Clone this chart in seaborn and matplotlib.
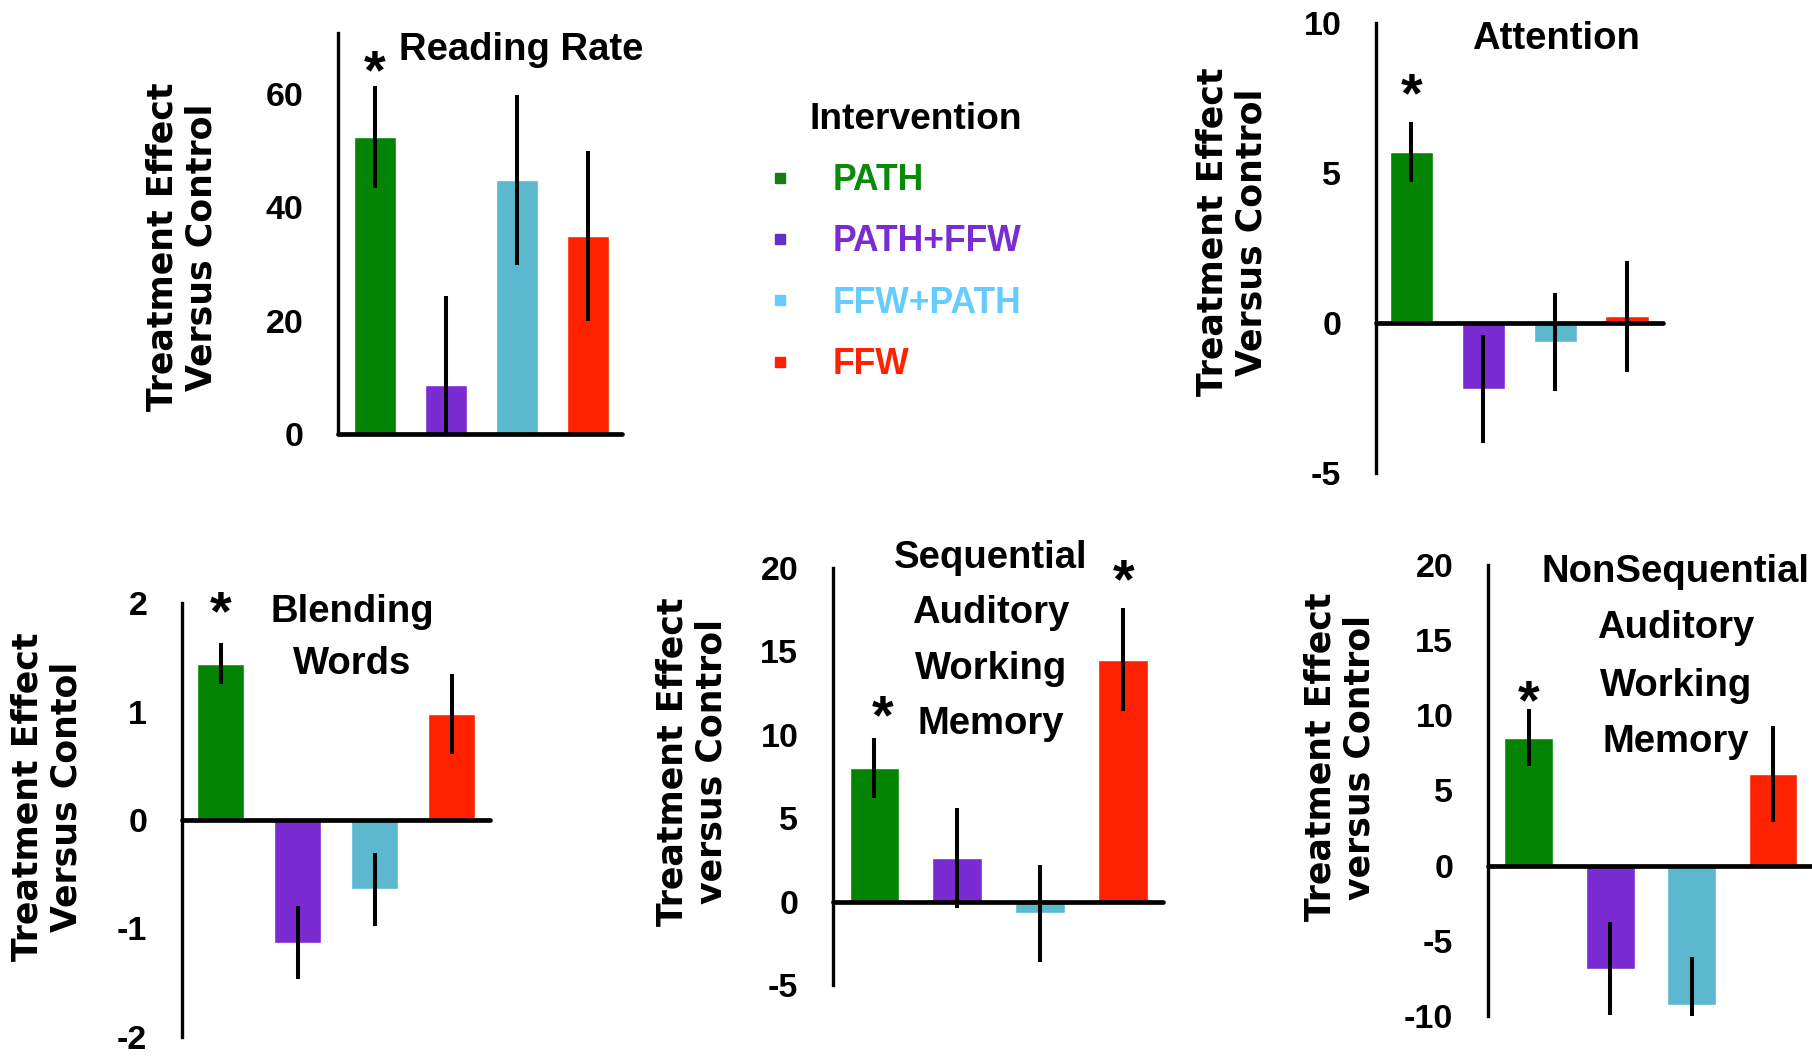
import matplotlib
matplotlib.use("Agg")
import matplotlib.pyplot as plt
import matplotlib.font_manager as fm
from matplotlib.lines import Line2D
import seaborn as sns
import pandas as pd

# ---------------- data ----------------
categories = ["PATH", "PATH+FFW", "FFW+PATH", "FFW"]
bar_colors = ["#038503", "#7a2bd1", "#5bb8cf", "#ff2200"]
legend_marker_colors = ["#1a7a1a", "#6030c8", "#66ccff", "#ff2200"]
legend_text_colors = ["#0a8a0a", "#7a2bd1", "#66ccff", "#ff2200"]

reading_vals = [52.3, 8.6, 44.8, 34.9]
reading_err = [9.0, 15.7, 15.0, 15.0]
reading_ticks = [0, 20, 40, 60]
reading_stars = [(0, 65.5)]

attention_vals = [5.7, -2.2, -0.63, 0.22]
attention_err = [1.0, 1.8, 1.63, 1.86]
attention_ticks = [-5, 0, 5, 10]
attention_stars = [(0, 7.9)]

blending_vals = [1.44, -1.13, -0.64, 0.98]
blending_err = [0.19, 0.34, 0.34, 0.37]
blending_ticks = [-2, -1, 0, 1, 2]
blending_stars = [(0, 1.99)]

seq_vals = [8.0, 2.6, -0.7, 14.5]
seq_err = [1.8, 3.0, 2.9, 3.1]
seq_ticks = [-5, 0, 5, 10, 15, 20]
seq_stars = [(0.1, 11.6), (3, 19.8)]

nonseq_vals = [8.5, -6.85, -9.3, 6.1]
nonseq_err = [1.9, 3.1, 3.2, 3.2]
nonseq_ticks = [-10, -5, 0, 5, 10, 15, 20]
nonseq_stars = [(0, 11.5)]

titles = ["Reading Rate", "Attention", "Blending\nWords",
          "Sequential\nAuditory\nWorking\nMemory",
          "NonSequential\nAuditory\nWorking\nMemory"]
ylabels = ["Treatment Effect\nVersus Control", "Treatment Effect\nVersus Control",
           "Treatment Effect\nVersus Contol", "Treatment Effect\nversus Control",
           "Treatment Effect\nversus Control"]
legend_title = "Intervention"

# ---------------- style ----------------
sns.set_style("white")
avail = {f.name for f in fm.fontManager.ttflist}
MAIN = "Liberation Sans" if "Liberation Sans" in avail else "DejaVu Sans"
WIDE = "DejaVu Sans"
plt.rcParams["font.family"] = [MAIN, "DejaVu Sans"]
plt.rcParams["text.color"] = "black"

W, H = 1812, 1060
fig = plt.figure(figsize=(W / 100, H / 100), dpi=100)
fig.patch.set_facecolor("white")


def add_ax(left, right, top, bottom):
    return fig.add_axes([left / W, 1 - bottom / H, (right - left) / W, (bottom - top) / H])


TSIZE = 27.5
STAR = 40
panels = [
    dict(box=(338, 622, 33, 434), ylim=(0, 70.7), xlim=(-0.52, 3.48), vals=reading_vals,
         err=reading_err, ticks=reading_ticks, stars=reading_stars,
         tpos=(521, 50), tls=1.2, ypos=(182, 247)),
    dict(box=(1376, 1663, 23, 473), ylim=(-5, 10), xlim=(-0.49, 3.5), vals=attention_vals,
         err=attention_err, ticks=attention_ticks, stars=attention_stars,
         tpos=(1556, 39), tls=1.2, ypos=(1232, 232)),
    dict(box=(182, 490, 603, 1037), ylim=(-2, 2), xlim=(-0.5, 3.5), vals=blending_vals,
         err=blending_err, ticks=blending_ticks, stars=blending_stars,
         tpos=(352, 638), tls=1.55, ypos=(47, 797)),
    dict(box=(833, 1163, 568, 985), ylim=(-5, 20), xlim=(-0.5, 3.48), vals=seq_vals,
         err=seq_err, ticks=seq_ticks, stars=seq_stars,
         tpos=(991, 641), tls=1.7, ypos=(692, 762)),
    dict(box=(1488, 1812, 565, 1016), ylim=(-10, 20), xlim=(-0.5, 3.48), vals=nonseq_vals,
         err=nonseq_err, ticks=nonseq_ticks, stars=nonseq_stars,
         tpos=(1676, 657), tls=1.75, ypos=(1340, 757)),
]

for i, p in enumerate(panels):
    ax = add_ax(*p["box"])
    ax.set_facecolor("none")
    df = pd.DataFrame({"Intervention": categories, "Effect": p["vals"]})
    sns.barplot(data=df, x="Intervention", y="Effect", hue="Intervention",
                order=categories, hue_order=categories, palette=bar_colors,
                saturation=1, width=0.6, dodge=False, legend=False,
                errorbar=None, ax=ax, zorder=2)
    ax.errorbar(range(len(categories)), p["vals"], yerr=p["err"], fmt="none",
                ecolor="black", elinewidth=2.9, capsize=0, zorder=5)
    ax.axhline(0, color="black", lw=3.4, zorder=4, clip_on=False)
    ax.set_xlim(*p["xlim"])
    ax.set_ylim(*p["ylim"])
    ax.set_yticks(p["ticks"])
    ax.set_yticklabels([str(t) for t in p["ticks"]])
    ax.set_xticks([])
    ax.set_xlabel("")
    ax.set_ylabel("")
    for s in ["top", "right", "bottom"]:
        ax.spines[s].set_visible(False)
    ax.spines["left"].set_linewidth(2.4)
    ax.spines["left"].set_color("black")
    ax.tick_params(axis="y", direction="out", length=8, width=2.4, color="black",
                   pad=17, labelsize=24.5, labelcolor="black")
    for lab in ax.get_yticklabels():
        lab.set_fontweight("bold")
    for sx, sy in p["stars"]:
        ax.annotate("*", xy=(sx, sy), xytext=(0, -0.46 * STAR), textcoords="offset points",
                    ha="center", va="baseline", fontsize=STAR, fontweight="bold",
                    color="black", annotation_clip=False)
    tx, ty = p["tpos"]
    fig.text(tx / W, 1 - ty / H, titles[i], ha="center", va="center",
             fontsize=TSIZE, fontweight="bold", linespacing=p["tls"], color="black")
    yx, yy = p["ypos"]
    fig.text(yx / W, 1 - yy / H, ylabels[i], ha="center", va="center", rotation=90,
             multialignment="center", fontsize=25, fontweight="bold",
             linespacing=1.15, family=[WIDE], color="black")

# legend
handles = [Line2D([], [], linestyle="none", marker="s", markersize=7,
                  markerfacecolor=c, markeredgecolor=c) for c in legend_marker_colors]
leg = fig.legend(handles, categories, title=legend_title, loc="upper left",
                 bbox_to_anchor=(752 / W, 1 - 84 / H), frameon=False,
                 prop={"weight": "bold", "size": 25.6},
                 title_fontproperties={"weight": "bold", "size": 26.7},
                 labelspacing=0.74, handlelength=0.6, handletextpad=1.18, borderpad=0,
                 labelcolor=legend_text_colors, alignment="right")
leg.get_title().set_color("black")

fig.savefig("out.png", dpi=100, facecolor="white")
